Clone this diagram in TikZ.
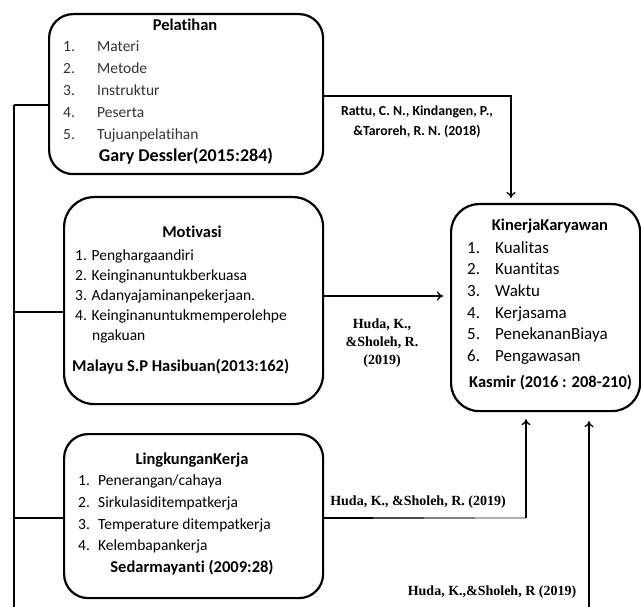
\documentclass[tikz,border=0pt]{standalone}
\usepackage{fontspec}
\setmainfont{Carlito}[Ligatures={NoCommon}]
\newfontfamily\tnr{Liberation Serif}
\usetikzlibrary{arrows.meta}
\begin{document}
\begin{tikzpicture}[x=1pt,y=-1pt,
 box/.style={draw, line width=2.2pt, rounded corners=24pt, anchor=north west, inner sep=0pt},
 item/.style={anchor=mid west, font=\fontsize{15.5}{18}\selectfont, inner sep=0pt},
 kitem/.style={anchor=mid west, font=\fontsize{17}{20}\selectfont, inner sep=0pt},
 head/.style={anchor=mid, font=\bfseries\fontsize{16.5}{19}\selectfont, inner sep=0pt},
 headw/.style={anchor=mid west, font=\bfseries\fontsize{16.5}{19}\selectfont, inner sep=0pt},
 reflbl/.style={font=\tnr\bfseries\fontsize{14}{18}\selectfont, inner sep=0pt, align=center},
 refc/.style={font=\bfseries\fontsize{13.8}{20}\selectfont, inner sep=0pt, align=center},
 conn/.style={line width=1.3pt},
 arr/.style={conn, -{To[length=6pt,width=9pt]}},
 faded/.style={text=black!80}
]
\useasboundingbox (0,0) rectangle (641,607);

% boxes
\node[box, minimum width=274pt, minimum height=160pt] (pel) at (48,13) {};
\node[box, minimum width=259pt, minimum height=207pt, rounded corners=30pt] (mot) at (63,196) {};
\node[box, minimum width=259pt, minimum height=164pt] (lk) at (63,433) {};
\node[box, minimum width=189pt, minimum height=207pt, rounded corners=28pt] (kin) at (450,203) {};

% Pelatihan
\node[head] (pelh) at (185,28) {Pelatihan};
\foreach \n/\t/\y in {1/Materi/49, 2/Metode/71, 3/Instruktur/93, 4/Peserta/115, 5/Tujuanpelatihan/137}{
  \node[item,faded] (pn\n) at (63,\y) {\n.};
  \node[item,faded] (pt\n) at (97,\y) {\t};
}
\node[head, font=\bfseries\fontsize{18}{20}\selectfont] (pelr) at (186,159) {Gary Dessler(2015:284)};

% Motivasi
\node[head] (moth) at (192,235) {Motivasi};
\node[item] (m1) at (75,258) {1. Penghargaandiri};
\node[item] (m2) at (75,278) {2. Keinginanuntukberkuasa};
\node[item] (m3) at (75,298) {3. Adanyajaminanpekerjaan.};
\node[item] (m4) at (75,318) {4. Keinginanuntukmemperolehpe};
\node[item] (m4b) at (92,338) {ngakuan};
\node[headw] (motr) at (72,369) {Malayu S.P Hasibuan(2013:162)};

% Lingkungan Kerja
\node[head] (lkh) at (192,462) {LingkunganKerja};
\foreach \n/\t/\y in {1/Penerangan\slash cahaya/483, 2/Sirkulasiditempatkerja/505, 3/Temperature ditempatkerja/527, 4/Kelembapankerja/548}{
  \node[item] (ln\n) at (78,\y) {\n.};
  \node[item] (lt\n) at (98,\y) {\t};
}
\node[head] (lkr) at (192,570) {Sedarmayanti (2009:28)};

% Kinerja Karyawan
\node[head] (kinh) at (550,228) {KinerjaKaryawan};
\foreach \n/\t/\y in {1/Kualitas/251, 2/Kuantitas/272.5, 3/Waktu/294, 4/Kerjasama/316, 5/PenekananBiaya/337.5, 6/Pengawasan/359}{
  \node[kitem] (kn\n) at (467,\y) {\n.};
  \node[kitem] (kt\n) at (495,\y) {\t};
}
\node[headw] (kinr) at (469,385) {Kasmir (2016 : 208-210)};

% labels
\node[refc] (lb0) at (417,122) {Rattu, C. N., Kindangen, P.,\\\&Taroreh, R. N. (2018)};
\node[reflbl] (lb1) at (382,343) {Huda, K.,\\\&Sholeh, R.\\(2019)};
\node[reflbl] (lb2) at (418,502) {Huda, K., \&Sholeh, R. (2019)};
\node[reflbl] (lb3) at (492,592) {Huda, K.,\&Sholeh, R (2019)};

% connectors
\coordinate (b1) at (14,105);
\coordinate (b2) at (14,312);
\coordinate (b3) at (14,518);
\coordinate (bt) at (14,607);
\draw[conn] (b1) -- (bt);
\draw[conn] (b1) -- (b1 -| pel.west);
\draw[conn] (b2) -- (b2 -| mot.west);
\draw[conn] (b3) -- (b3 -| lk.west);

\coordinate (c1) at (511,96);
\draw[arr, shorten >=5pt] (c1 -| pel.east) -- (c1) -- (c1 |- kin.north);

\coordinate (c2) at (322,296);
\draw[arr, shorten >=7pt] (c2 -| mot.east) -- (c2 -| kin.west);

\coordinate (c3) at (526,518);
\coordinate (c3a) at (373,518);
\coordinate (c3b) at (424,518);
\coordinate (c3c) at (475,518);
\draw[conn] (c3 -| lk.east) -- (c3a);
\draw[conn, black!70] (c3a) -- (c3b);
\draw[conn, black!50] (c3b) -- (c3c);
\draw[conn, black!30] (c3c) -- (c3);
\draw[arr, shorten >=7pt] (c3) -- (c3 |- kin.south);

\coordinate (c4) at (589,607);
\draw[arr, shorten >=9pt] (c4) -- (c4 |- kin.south);
\end{tikzpicture}
\end{document}
